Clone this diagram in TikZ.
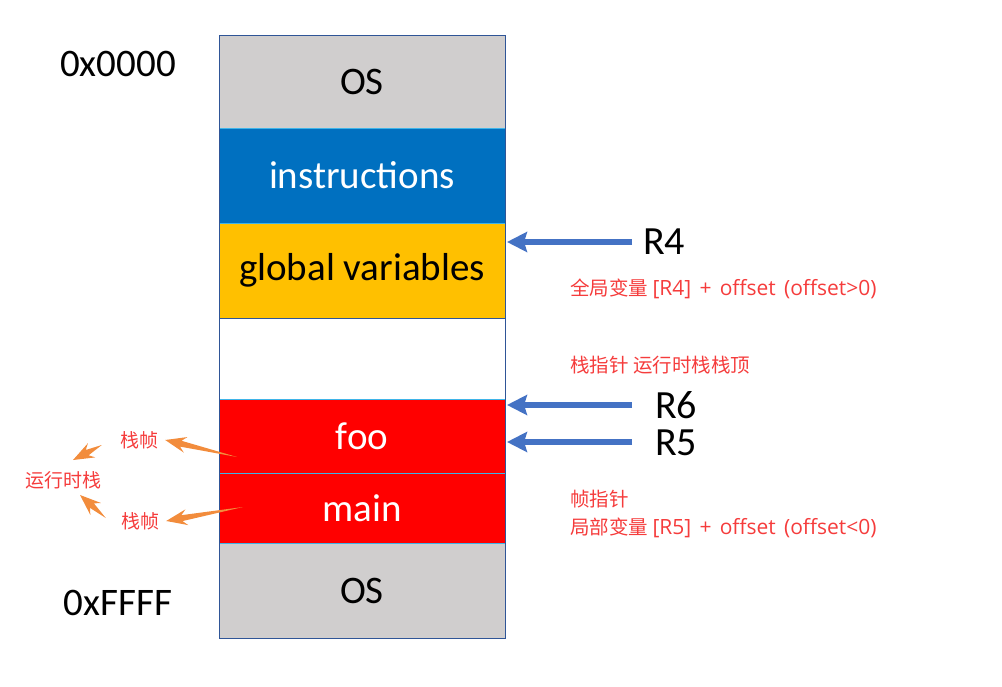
\documentclass[tikz,border=0pt]{standalone}
\usepackage{fontspec}
\setmainfont{Carlito}
\newfontfamily\cjk{Noto Sans CJK SC}
\newfontfamily\lat[WordSpace=1.5]{Open Sans}
\usetikzlibrary{positioning,calc,arrows.meta}

\definecolor{osgray}{HTML}{D0CECE}
\definecolor{instrblue}{HTML}{0070C0}
\definecolor{globalyellow}{HTML}{FFC000}
\definecolor{framered}{HTML}{FF0000}
\definecolor{edgecyan}{HTML}{3FB4E8}
\definecolor{edgedark}{HTML}{2F5597}
\definecolor{arrowblue}{HTML}{4472C4}
\definecolor{arroworange}{HTML}{F28C3C}
\definecolor{notered}{HTML}{F53C3C}

\tikzset{
  block/.style={draw=edgecyan, line width=0.8pt, minimum width=286pt,
    inner sep=0pt, outer sep=0pt, font=\fontsize{39}{44}\selectfont},
  reg/.style={anchor=west, inner sep=0pt, text height=26pt, text depth=0pt,
    font=\fontsize{40}{44}\selectfont},
  addr/.style={inner sep=0pt, font=\fontsize{39}{44}\selectfont},
  note/.style={anchor=west, inner sep=0pt, text=notered, align=left,
    font=\cjk\fontsize{19.5}{28}\selectfont},
  side/.style={inner sep=3pt, text=notered, font=\cjk\fontsize{19}{22}\selectfont},
  ptr/.style={draw=arrowblue, line width=6pt,
    -{Stealth[length=20pt,width=20pt,inset=3pt]}},
}

% tapered orange arrow from #1 to #2
\newcommand\taperto[2]{%
  \fill[arroworange] (#1)
    -- ($(#2)!16pt!(#1)!3pt!90:(#1)$)
    -- ($(#2)!21pt!(#1)!8pt!90:(#1)$)
    -- (#2)
    -- ($(#2)!21pt!(#1)!8pt!-90:(#1)$)
    -- ($(#2)!16pt!(#1)!3pt!-90:(#1)$)
    -- cycle;}

\begin{document}
\begin{tikzpicture}[x=1pt,y=-1pt]
\useasboundingbox (0,0) rectangle (1002,687);

% memory column
\node[block, fill=osgray, minimum height=93pt, anchor=north west] (os1) at (219,35) {OS};
\node[block, fill=instrblue, text=white, minimum height=95pt, below=0pt of os1] (instr) {instructions};
\node[block, fill=globalyellow, minimum height=95pt, below=0pt of instr] (globals) {global variables};
\node[block, fill=white, draw=edgedark, minimum height=81pt, below=0pt of globals] (free) {};
\node[block, fill=framered, text=white, minimum height=74pt, below=0pt of free] (foo) {foo};
\node[block, fill=framered, text=white, minimum height=70pt, below=0pt of foo] (main) {main};
\node[block, fill=osgray, minimum height=95pt, below=0pt of main] (os2) {OS};
\draw[edgedark, line width=0.8pt] (os1.north west) rectangle (os2.south east);

% addresses
\node[addr] (lowaddr) at (118,64) {0x0000};
\node[addr] (highaddr) at (118,603) {0xFFFF};

% registers
\node[reg] (r4) at (643,242) {R4};
\node[reg] (r6) at (655,405) {R6};
\node[reg] (r5) at (655,442) {R5};
\draw[ptr] ([xshift=-11pt]r4.west) -- ([xshift=2pt]r4.west -| globals.east);
\draw[ptr] ([xshift=-23pt]r6.west) -- ([xshift=2pt]r6.west -| foo.east);
\draw[ptr] ([xshift=-23pt]r5.west) -- ([xshift=2pt]r5.west -| foo.east);

% notes
\node[note] (globalnote) at (570,289) {全局变量 {\lat\fontsize{21}{28}\selectfont [R4] + offset (offset>0)}};
\node[note] (spnote) at (570,365) {栈指针 运行时栈栈顶};
\node[note] (fpnote) at (570,514) {帧指针\\局部变量 {\lat\fontsize{21}{28}\selectfont [R5] + offset (offset<0)}};

% stack frames
\node[side] (frameup) at (139,440) {栈帧};
\node[side] (framelow) at (140,521) {栈帧};
\node[side] (stack) at (63,480) {运行时栈};

\coordinate (footail) at (237,457);
\coordinate (maintail) at (243,507);
\coordinate (uptail) at ([shift={(-15,5)}]frameup.west);
\coordinate (uptip) at ([shift={(10,-8)}]stack.north);
\coordinate (lowtail) at ([shift={(-12,-3)}]framelow.west);
\coordinate (lowtip) at ([shift={(17,3)}]stack.south);
\coordinate (frameuptip) at ([xshift=4pt]frameup.east);
\coordinate (framelowtip) at ([xshift=4pt]framelow.east);

\taperto{footail}{frameuptip}
\taperto{maintail}{framelowtip}
\taperto{uptail}{uptip}
\taperto{lowtail}{lowtip}

\end{tikzpicture}
\end{document}
